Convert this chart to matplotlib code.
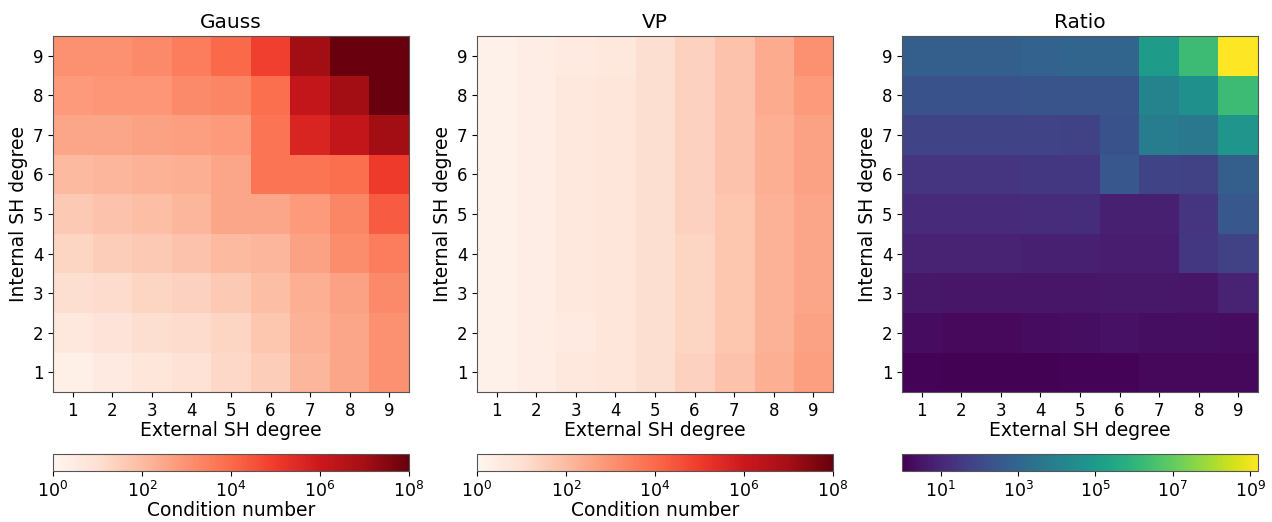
import numpy as np
import matplotlib
matplotlib.use("Agg")
import matplotlib.pyplot as plt
from matplotlib.colors import LogNorm

degrees = [1, 2, 3, 4, 5, 6, 7, 8, 9]

# log10 condition numbers, rows = internal degree 1..9, cols = external degree 1..9
gauss_log10 = [
    [0.3, 0.5, 0.7, 0.9, 1.2, 1.5, 2.1, 2.5, 3.0],
    [0.6, 0.8, 1.0, 1.1, 1.3, 1.7, 2.2, 2.5, 3.0],
    [1.0, 1.1, 1.3, 1.4, 1.6, 1.9, 2.3, 2.6, 3.2],
    [1.3, 1.5, 1.6, 1.8, 2.0, 2.1, 2.6, 3.1, 3.5],
    [1.6, 1.8, 1.9, 2.1, 2.5, 2.5, 2.8, 3.3, 4.3],
    [2.0, 2.1, 2.2, 2.3, 2.5, 3.7, 3.7, 3.9, 5.0],
    [2.5, 2.5, 2.6, 2.7, 2.8, 3.7, 5.6, 6.2, 7.0],
    [2.8, 2.9, 2.9, 3.2, 3.3, 3.9, 6.2, 7.0, 10.5],
    [3.0, 3.0, 3.2, 3.5, 4.0, 4.9, 7.0, 9.5, 12.0],
]
vp_log10 = [
    [0.2, 0.4, 0.6, 0.7, 1.0, 1.4, 1.8, 2.3, 2.7],
    [0.2, 0.4, 0.5, 0.7, 1.0, 1.3, 1.7, 2.2, 2.6],
    [0.2, 0.4, 0.6, 0.7, 1.0, 1.3, 1.7, 2.2, 2.5],
    [0.2, 0.4, 0.6, 0.7, 1.0, 1.3, 1.7, 2.2, 2.5],
    [0.2, 0.4, 0.6, 0.7, 1.0, 1.4, 1.7, 2.2, 2.5],
    [0.2, 0.4, 0.6, 0.7, 1.0, 1.4, 1.8, 2.3, 2.6],
    [0.2, 0.4, 0.6, 0.7, 1.0, 1.4, 1.8, 2.3, 2.6],
    [0.2, 0.4, 0.6, 0.7, 1.0, 1.4, 1.8, 2.4, 2.8],
    [0.2, 0.4, 0.5, 0.6, 1.0, 1.4, 1.8, 2.4, 3.0],
]
ratio_log10 = [
    [0.1, 0.05, 0.05, 0.05, 0.1, 0.1, 0.2, 0.2, 0.2],
    [0.3, 0.25, 0.25, 0.3, 0.35, 0.45, 0.35, 0.35, 0.3],
    [0.6, 0.55, 0.55, 0.55, 0.55, 0.6, 0.6, 0.55, 0.9],
    [0.9, 0.9, 0.9, 0.8, 0.8, 0.75, 0.75, 1.5, 1.8],
    [1.1, 1.1, 1.1, 1.15, 1.2, 0.8, 0.8, 1.4, 2.5],
    [1.4, 1.4, 1.4, 1.5, 1.5, 2.5, 1.9, 1.8, 2.8],
    [1.9, 1.9, 1.9, 1.9, 1.8, 2.3, 3.9, 3.7, 4.8],
    [2.3, 2.3, 2.3, 2.4, 2.4, 2.4, 4.1, 4.6, 6.3],
    [2.8, 2.8, 2.8, 2.9, 3.0, 3.0, 5.1, 6.3, 9.2],
]

gauss = 10.0 ** np.array(gauss_log10)
vp = 10.0 ** np.array(vp_log10)
ratio = 10.0 ** np.array(ratio_log10)

W, H = 1272, 522
fig = plt.figure(figsize=(W / 100, H / 100), dpi=100)

def fx(px):
    return px / W

def fy(py):
    return 1 - py / H

panels = [
    ("Gauss", gauss, "Reds", LogNorm(1e0, 1e8), 53, "Condition number"),
    ("VP", vp, "Reds", LogNorm(1e0, 1e8), 477, "Condition number"),
    ("Ratio", ratio, "viridis", LogNorm(1e0, 10 ** 9.2), 902, None),
]

ax_top, ax_bot = 36, 392
cb_top, cb_bot = 454, 471
for title, data, cmap, norm, left, cblabel in panels:
    ax = fig.add_axes([fx(left), fy(ax_bot), fx(356), (ax_bot - ax_top) / H])
    im = ax.imshow(data, cmap=cmap, norm=norm, origin="lower",
                   extent=[0.5, 9.5, 0.5, 9.5], aspect="auto")
    ax.set_xticks(degrees)
    ax.set_yticks(degrees)
    ax.set_xticklabels([str(d) for d in degrees])
    ax.set_yticklabels([str(d) for d in degrees])
    ax.tick_params(labelsize=12)
    for s in ax.spines.values():
        s.set_edgecolor("#555555")
    ax.set_title(title, fontsize=14.5)
    ax.set_xlabel("External SH degree", fontsize=13.5, labelpad=1)
    ax.set_ylabel("Internal SH degree", fontsize=13.5, labelpad=3)
    cax = fig.add_axes([fx(left), fy(cb_bot), fx(356), (cb_bot - cb_top) / H])
    cb = fig.colorbar(im, cax=cax, orientation="horizontal")
    cb.ax.tick_params(labelsize=12.5)
    cb.outline.set_edgecolor("#555555")
    if title == "Ratio":
        cb.set_ticks([1e1, 1e3, 1e5, 1e7, 1e9])
    else:
        cb.set_ticks([1e0, 1e2, 1e4, 1e6, 1e8])
    cb.ax.minorticks_off()
    if cblabel:
        cb.set_label(cblabel, fontsize=13.5, labelpad=0)

fig.savefig("out.png", dpi=100)
